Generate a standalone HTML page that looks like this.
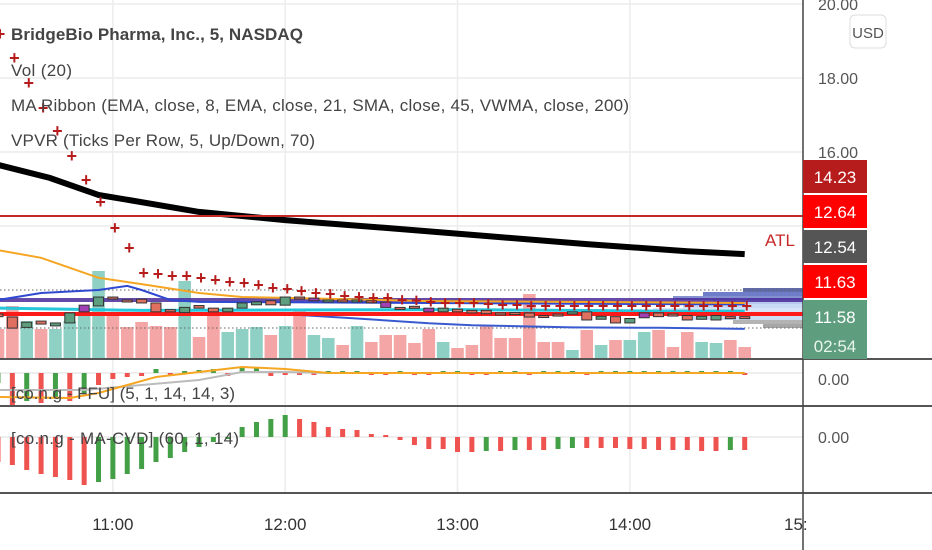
<!DOCTYPE html>
<html><head><meta charset="utf-8"><style>
html,body{margin:0;padding:0;background:#fff;}
svg{display:block;font-family:"Liberation Sans",sans-serif;}
</style></head><body>
<svg id="c" width="932" height="550" viewBox="0 0 932 550">
<rect x="0" y="0" width="932" height="550" fill="#fff"/>
<g id="grid"></g>
<g id="main"></g>
<g id="ffu"></g>
<g id="cvd"></g>
<g id="axes"></g>
<g fill="#444" font-size="17">
<text x="11" y="40" font-weight="bold" textLength="292">BridgeBio Pharma, Inc., 5, NASDAQ</text>
<text x="11" y="76" textLength="61">Vol (20)</text>
<text x="11" y="111" textLength="618">MA Ribbon (EMA, close, 8, EMA, close, 21, SMA, close, 45, VWMA, close, 200)</text>
<text x="11" y="146" textLength="304">VPVR (Ticks Per Row, 5, Up/Down, 70)</text>
<text x="11" y="399" textLength="224">[co.n.g - FFU] (5, 1, 14, 14, 3)</text>
<text x="11" y="444" textLength="228">[co.n.g - MA-CVD] (60, 1, 14)</text>
</g>
</svg>
<script>
const volumes=[30,53,38,30,30,38,43,88,43,32,37,33,32,78,22,47,27,30,32,24,33,48,24,21,14,33,17,24,24,16,30,17,11,14,33,21,21,65,17,17,9,29,14,19,19,27,29,12,27,17,16,19,12];
const opens=[11.62,11.54,11.26,11.43,11.30,11.38,11.68,11.84,12.08,12.00,12.02,11.92,11.74,11.66,11.85,11.78,11.68,11.78,11.87,11.98,11.86,12.08,11.98,11.95,12.00,11.95,11.98,11.94,11.80,11.83,11.78,11.68,11.75,11.72,11.72,11.65,11.66,11.65,11.58,11.62,11.62,11.68,11.48,11.55,11.38,11.52,11.65,11.62,11.58,11.48,11.46,11.55,11.55];
const closes=[11.55,11.24,11.40,11.35,11.38,11.65,11.86,12.08,12.03,11.98,11.92,11.68,11.68,11.80,11.78,11.68,11.78,11.92,11.95,11.87,12.08,12.03,12.05,12.00,11.95,12.00,11.95,11.80,11.75,11.78,11.68,11.78,11.68,11.65,11.63,11.62,11.63,11.54,11.56,11.60,11.68,11.46,11.56,11.38,11.50,11.65,11.55,11.60,11.46,11.56,11.58,11.53,11.53];
const purpleBars=[6,22,27,30,45];
const psarVals=[19.19,18.54,17.86,17.19,16.57,15.89,15.24,14.65,13.95,13.41,12.73,12.70,12.65,12.65,12.59,12.54,12.49,12.46,12.41,12.32,12.30,12.24,12.19,12.16,12.11,12.08,12.05,12.05,12.00,11.98,11.95,11.92,11.92,11.92,11.89,11.86,11.86,11.84,11.84,11.84,11.84,11.84,11.84,11.84,11.84,11.84,11.84,11.84,11.84,11.84,11.84,11.84,11.84];
const vwmaIdx=[0,3.6,7,14,20,27,34,41,48,52];
const vwmaVals=[15.65,15.30,14.84,14.38,14.16,13.95,13.73,13.51,13.32,13.24];
const emaSlowIdx=[0,3,5,7,10,14,17,21,30,40,52];
const emaSlowVals=[13.35,13.14,12.87,12.60,12.43,12.19,12.08,12.05,11.97,11.95,11.92];
const emaFastIdx=[0,3,7,9,10,12,14,20,30,40,52];
const emaFastVals=[12.0,12.19,12.27,12.38,12.27,12.00,11.95,11.94,11.92,11.90,11.88];
const smaIdx=[0,5,10,20,32,40,46,52];
const smaVals=[11.78,11.75,11.72,11.73,11.74,11.72,11.70,11.70];
const lowBlueIdx=[20,25,30,33,40,46,52];
const lowBlueVals=[11.62,11.50,11.37,11.32,11.26,11.25,11.22];
const ffuVals=[-10,-32,-28,-30,-25,-28,-20,-12,-6,-4,-3,4,-3,2,3,4,-3,5,5,-3,-2,-2,-2,2,2,2,-2,-2,2,-2,-2,2,2,-2,-2,2,2,-2,2,2,2,-2,2,2,2,2,2,2,2,2,2,2,-2];
const ffuLineIdx=[0,5,7,9,11,14,17,20,23,30,52];
const ffuLineVals=[-24,-25,-20,-12,-4,1,6,4,0,0,0];
const ffuSigIdx=[0,6,10,14,17,20,23,52];
const ffuSigVals=[-17,-17,-12,-7,1,1,0,0];
const cvdVals=[-25,-28,-33,-37,-40,-43,-48,-45,-42,-37,-32,-25,-21,-15,-10,-5,0,10,15,18,22,18,15,10,8,7,3,2,-3,-8,-12,-12,-15,-15,-14,-14,-13,-13,-13,-12,-11,-11,-11,-11,-12,-12,-13,-13,-13,-14,-14,-13,-13];
const priceTicks=[20,18,16];
const timeTicks=["11:00","12:00","13:00","14:00","15:"];
const timeIdx=[8.0,20.0,32.0,44.0,55.95];

const NS="http://www.w3.org/2000/svg";
function mk(tag,attrs,parent){const e=document.createElementNS(NS,tag);for(const k in attrs)e.setAttribute(k,attrs[k]);parent.appendChild(e);return e;}
const X=i=>-2+14.36*i;
const Y=p=>152+(16-p)*37;
const VB=359, VS=1.0;
const FY=v=>373-v;
const CY=v=>437-v;
const grid=document.getElementById('grid'),main=document.getElementById('main'),ffu=document.getElementById('ffu'),cvd=document.getElementById('cvd'),axes=document.getElementById('axes');

[20,18,16,14].forEach(p=>{const l=mk('line',{x1:0,x2:803,y1:Y(p),y2:Y(p),stroke:'#ececec','stroke-width':1.5},grid);

});
timeIdx.slice(0,4).forEach(t=>{const l=mk('line',{x1:X(t),x2:X(t),y1:0,y2:493,stroke:'#ececec','stroke-width':1.5},grid);

});

[[290,60,'#2d3a8c'],[294,100,'#3f51b5'],[298,130,'#5c6bc0'],[302,90,'#9fb8e8'],[306,120,'#b7cdf0'],[310,150,'#c9dbf5'],[314,80,'#aaa'],[318,110,'#bcd0ee'],[322,70,'#999'],[326,40,'#888']].forEach(r=>{
const e=mk('rect',{x:803-r[1],y:r[0]-2,width:r[1],height:4,fill:r[2],opacity:0.75},main);

});

volumes.forEach((v,i)=>{const up=closes[i]>=opens[i];
const e=mk('rect',{x:X(i)-6.3,y:VB-v*VS,width:12.6,height:v*VS,fill:up?'#8fd0c4':'#f4a6a6'},main);

});

[290,328].forEach(y=>{const l=mk('line',{x1:0,x2:803,y1:y,y2:y,stroke:'#666','stroke-dasharray':'1.5,2.5','stroke-width':1},main);

});

function line(idx,vals,yf,attrs,name){const d=idx.map((t,k)=>(k?'L':'M')+X(t).toFixed(1)+','+yf(vals[k]).toFixed(1)).join('');
const e=mk('path',Object.assign({d:d,fill:'none'},attrs),main);

return e;}

const pb=mk('rect',{x:0,y:Y(12.0)-2,width:803,height:4,fill:'#4a2a9a',opacity:0.85},main);


line(smaIdx,smaVals,Y,{stroke:'#26c6da','stroke-width':3},'sma-line');
line(emaFastIdx,emaFastVals,Y,{stroke:'#2f49d1','stroke-width':2},'ema-fast-line');
line(lowBlueIdx,lowBlueVals,Y,{stroke:'#3a5bd0','stroke-width':2},'lower-band-line');
line(emaSlowIdx,emaSlowVals,Y,{stroke:'#f5a623','stroke-width':2},'ema-slow-line');
line(vwmaIdx,vwmaVals,Y,{stroke:'#000','stroke-width':6},'vwma-line');

const l1=mk('line',{x1:0,x2:803,y1:Y(14.27),y2:Y(14.27),stroke:'#c62828','stroke-width':2},main);


const l2=mk('line',{x1:0,x2:803,y1:Y(11.62),y2:Y(11.62),stroke:'#ff1a1a','stroke-width':4},main);


const atl=mk('text',{x:765,y:246,fill:'#c62828','font-size':17},main);atl.textContent='ATL';



opens.forEach((o,i)=>{const c=closes[i];const up=c>=o;let col=up?'#5d9e7e':'#e0705f';if(purpleBars.includes(i))col='#a13fb5';
const y1=Y(Math.max(o,c)),h=Math.max(2,Math.abs(Y(o)-Y(c)));
const e=mk('rect',{x:X(i)-5,y:y1,width:10,height:h,fill:col,stroke:'#333','stroke-width':1},main);

});

psarVals.forEach((v,i)=>{const e=mk('text',{x:X(i)+2,y:Y(v)+6,fill:'#b71c1c','font-size':18,'font-weight':'bold','text-anchor':'middle'},main);e.textContent='+';

});

const fz=mk('line',{x1:0,x2:803,y1:373,y2:373,stroke:'#ddd','stroke-width':1},ffu);


ffuVals.forEach((v,i)=>{const col=(i%2===1&&i<7)||(v<0&&i>=7)?'#ef5350':'#43a047';
const e=mk('rect',{x:X(i)-2.5,y:Math.min(FY(v),373),width:5,height:Math.max(2,Math.abs(v)),fill:col},ffu);

});
(function(){const d=ffuSigIdx.map((t,k)=>(k?'L':'M')+X(t)+','+FY(ffuSigVals[k])).join('');const e=mk('path',{d:d,fill:'none',stroke:'#bbb','stroke-width':2},ffu);


const d2=ffuLineIdx.map((t,k)=>(k?'L':'M')+X(t)+','+FY(ffuLineVals[k])).join('');const e2=mk('path',{d:d2,fill:'none',stroke:'#f5a623','stroke-width':2},ffu);

})();

const cz=mk('line',{x1:0,x2:803,y1:437,y2:437,stroke:'#ddd','stroke-width':1},cvd);


cvdVals.forEach((v,i)=>{const prev=i?cvdVals[i-1]:v+1;const col=v>prev?'#43a047':'#ef5350';
const e=mk('rect',{x:X(i)-2.5,y:Math.min(CY(v),437),width:5,height:Math.max(2,Math.abs(v)),fill:col},cvd);

});

[359,406,493].forEach(y=>{const l=mk('line',{x1:0,x2:932,y1:y,y2:y,stroke:'#555','stroke-width':2},axes);

});
const va=mk('line',{x1:803,x2:803,y1:0,y2:550,stroke:'#444','stroke-width':1.5},axes);


priceTicks.forEach(p=>{const t=mk('text',{x:818,y:Y(p)+6,fill:'#555','font-size':16},axes);t.textContent=p.toFixed(2);

});
const usd=mk('g',{},axes);


mk('rect',{x:850,y:15,width:36,height:33,rx:5,fill:'#fff',stroke:'#ddd'},usd);
const ut=mk('text',{x:868,y:38,fill:'#555','font-size':15,'text-anchor':'middle'},usd);ut.textContent='USD';
const boxes=[['14.23',160,'#b71c1c'],['12.64',195,'#ff0000'],['12.54',230,'#555555'],['11.63',265,'#ff0000']];
boxes.forEach(b=>{mk('rect',{x:803,y:b[1],width:64,height:33,fill:b[2]},axes);
const t=mk('text',{x:835,y:b[1]+23,fill:'#fff','font-size':17,'text-anchor':'middle'},axes);t.textContent=b[0];

});
mk('rect',{x:803,y:300,width:64,height:59,fill:'#5e9e7f'},axes);
const t1=mk('text',{x:835,y:323,fill:'#fff','font-size':17,'text-anchor':'middle'},axes);t1.textContent='11.58';


const t2=mk('text',{x:835,y:352,fill:'#e8f5e9','font-size':17,'text-anchor':'middle'},axes);t2.textContent='02:54';


const z1=mk('text',{x:818,y:385,fill:'#555','font-size':16},axes);z1.textContent='0.00';


const z2=mk('text',{x:818,y:443,fill:'#555','font-size':16},axes);z2.textContent='0.00';


timeTicks.forEach((s,k)=>{const t=mk('text',{x:X(timeIdx[k]),y:530,fill:'#333','font-size':17,'text-anchor':k===4?'start':'middle'},axes);
if(k===4)t.setAttribute('x',784);
t.textContent=s;

});
</script>
</body></html>
